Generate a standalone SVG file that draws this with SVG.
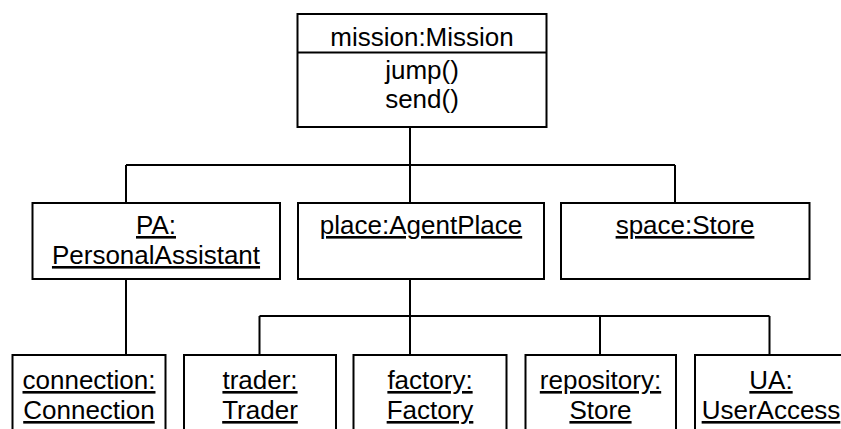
<svg xmlns="http://www.w3.org/2000/svg" width="841" height="429" viewBox="0 0 841 429">
  <style>
    .box { fill: #ffffff; stroke: #000000; stroke-width: 2; }
    .wire { fill: none; stroke: #000000; stroke-width: 2; }
    text { font-family: "Liberation Sans", Arial, sans-serif; font-size: 26px; fill: #000000; text-anchor: middle; }
    .obj { text-decoration: underline; }
  </style>

  <!-- links between objects -->
  <g id="connectors">
    <path class="wire" d="M410,127 V165 M126,165 H675 M126,165 V203 M410,165 V203 M675,165 V203"/>
    <path class="wire" d="M126,279 V355"/>
    <path class="wire" d="M410,279 V316 M259.5,316 H769.5 M259.5,316 V355 M410,316 V355 M600,316 V355 M769.5,316 V355"/>
  </g>

  <!-- class box with operations -->
  <g id="mission">
    <rect class="box" x="297.5" y="14" width="249" height="113"/>
    <line class="wire" x1="297.5" y1="52.5" x2="546.5" y2="52.5"/>
    <text x="422" y="45.5">mission:Mission</text>
    <text x="422" y="79">jump()</text>
    <text x="422" y="107.5">send()</text>
  </g>

  <!-- second level objects -->
  <g id="pa">
    <rect class="box" x="32.5" y="203" width="247.5" height="76"/>
    <text class="obj" x="156" y="234">PA:</text>
    <text class="obj" x="156" y="264">PersonalAssistant</text>
  </g>
  <g id="place">
    <rect class="box" x="298" y="203" width="246" height="76"/>
    <text class="obj" x="421" y="234">place:AgentPlace</text>
  </g>
  <g id="space">
    <rect class="box" x="561" y="203" width="248.5" height="76"/>
    <text class="obj" x="685" y="234">space:Store</text>
  </g>

  <!-- third level objects -->
  <g id="connection">
    <rect class="box" x="12.5" y="355" width="153" height="90"/>
    <text class="obj" x="89" y="389">connection:</text>
    <text class="obj" x="89" y="419">Connection</text>
  </g>
  <g id="trader">
    <rect class="box" x="184" y="355" width="152" height="90"/>
    <text class="obj" x="260" y="389">trader:</text>
    <text class="obj" x="260" y="419">Trader</text>
  </g>
  <g id="factory">
    <rect class="box" x="353.5" y="355" width="153" height="90"/>
    <text class="obj" x="430" y="389">factory:</text>
    <text class="obj" x="430" y="419">Factory</text>
  </g>
  <g id="repository">
    <rect class="box" x="525.5" y="355" width="150.5" height="90"/>
    <text class="obj" x="600.5" y="389">repository:</text>
    <text class="obj" x="600.5" y="419">Store</text>
  </g>
  <g id="ua">
    <rect class="box" x="695" y="355" width="153" height="90"/>
    <text class="obj" x="771" y="389">UA:</text>
    <text class="obj" x="771" y="419">UserAccess</text>
  </g>
</svg>
